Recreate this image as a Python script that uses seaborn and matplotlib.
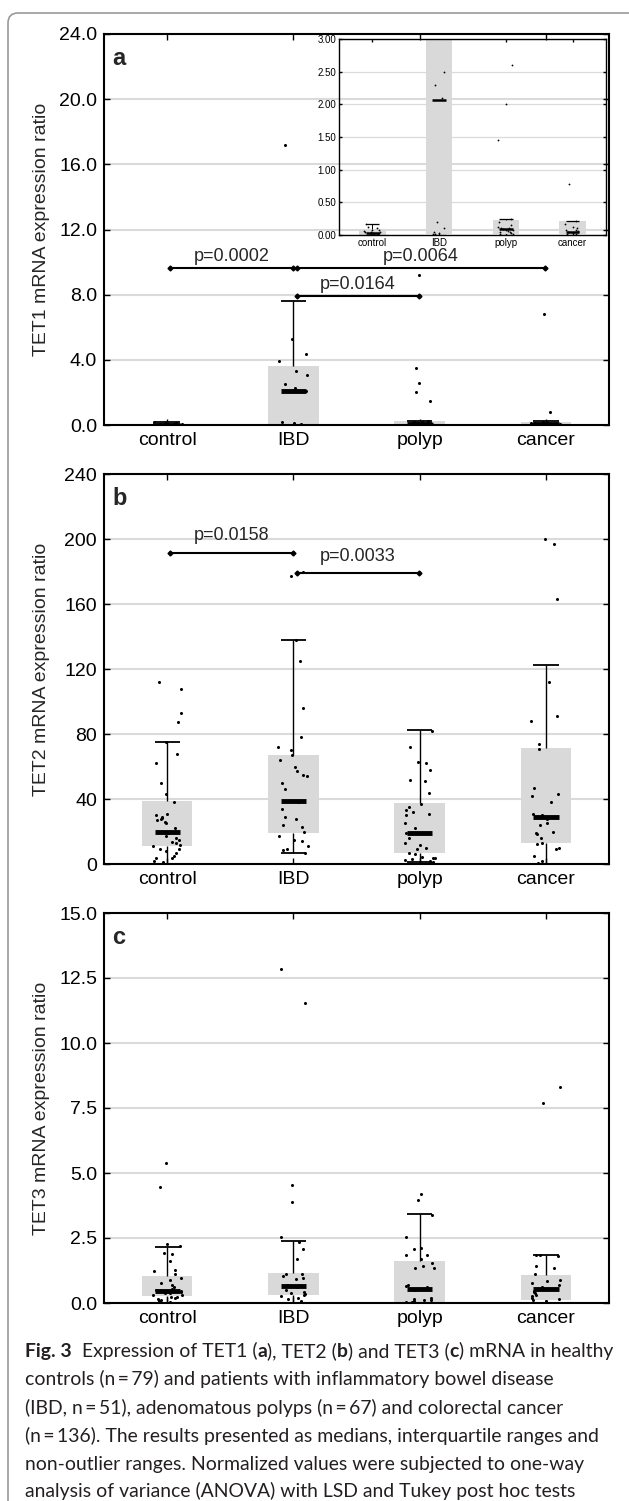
"""TET1/TET2/TET3 expression panels with caption"""

import numpy as np
import pandas as pd
import matplotlib
matplotlib.use("Agg")
import matplotlib.pyplot as plt
import seaborn as sns
from matplotlib.patches import FancyBboxPatch
from matplotlib.transforms import IdentityTransform

W, H = 629, 1501

groups = ["control", "IBD", "polyp", "cancer"]

# TET1 (panel a) - dots
tet1_control = [0.17, 0.12, 0.1, 0.08, 0.07, 0.06, 0.05, 0.04, 0.04, 0.03, 0.03, 0.02, 0.02, 0.01, 0.01, 0.0]
tet1_ibd = [17.2, 5.3, 4.35, 3.9, 3.3, 3.05, 2.5, 2.3, 2.1, 0.2, 0.1, 0.05, 0.03, 0.02, 0.01]
tet1_polyp = [9.2, 3.5, 2.6, 2.0, 1.45, 0.24, 0.2, 0.16, 0.13, 0.11, 0.1, 0.09, 0.08, 0.07, 0.06, 0.05,
              0.04, 0.03, 0.02, 0.01]
tet1_cancer = [6.8, 0.78, 0.21, 0.17, 0.13, 0.1, 0.08, 0.07, 0.06, 0.05, 0.04, 0.03, 0.02, 0.01]
tet1_q1 = [0.0, 0.01, 0.01, 0.01]
tet1_median = [0.03, 2.07, 0.09, 0.05]
tet1_q3 = [0.09, 3.6, 0.23, 0.21]
tet1_low = [0.0, 0.0, 0.0, 0.0]
tet1_high = [0.17, 7.6, 0.25, 0.22]
tet1_pairs = [(0, 1), (1, 3), (1, 2)]
tet1_bar_y = [9.63, 9.63, 7.93]
tet1_p = ["p=0.0002", "p=0.0064", "p=0.0164"]
tet1_ticks = [0, 4, 8, 12, 16, 20, 24]
inset_ticks = [0.0, 0.5, 1.0, 1.5, 2.0, 2.5, 3.0]

# TET2 (panel b)
tet2_control = [112, 108, 93, 87.5, 75, 68, 62, 50, 43, 38, 31, 30, 29, 28.5, 28, 27, 26, 25, 22, 20, 19,
                17, 16, 15, 13.5, 13, 12, 11, 9.5, 9, 8, 6.5, 5, 4, 4, 2, 1]
tet2_ibd = [180, 177, 138, 125, 96, 78, 72, 70, 67, 64, 60, 57, 55, 54, 50, 46, 38, 34, 29, 28, 24, 23,
            20, 17, 15, 14, 11, 9.5, 8.5, 7]
tet2_polyp = [82, 72, 63, 62, 58, 52, 51, 44, 37, 35, 33, 32, 31, 30, 25, 22, 19, 16, 13, 12, 10, 9, 7, 6,
              4.5, 4, 3.5, 3, 2.5, 2, 1.5]
tet2_cancer = [200, 197, 163, 112, 91, 88, 74, 71, 47, 43, 42, 38, 31, 30, 29.5, 29, 28, 25, 24, 20, 19,
               18.5, 16, 13, 12.5, 10, 9.5, 5, 2, 0.5]
tet2_q1 = [11.3, 18.9, 6.5, 13.0]
tet2_median = [19.5, 39.0, 19.3, 29.0]
tet2_q3 = [38.7, 67.0, 37.3, 71.2]
tet2_low = [0.0, 7.0, 1.5, 0.0]
tet2_high = [75.0, 138.0, 82.5, 122.5]
tet2_pairs = [(0, 1), (1, 2)]
tet2_bar_y = [191.6, 178.9]
tet2_p = ["p=0.0158", "p=0.0033"]
tet2_ticks = [0, 40, 80, 120, 160, 200, 240]

# TET3 (panel c)
tet3_control = [5.4, 4.45, 2.28, 2.2, 1.93, 1.89, 1.6, 1.26, 1.22, 1.1, 0.97, 0.9, 0.77, 0.71, 0.6, 0.55,
                0.5, 0.45, 0.42, 0.4, 0.38, 0.32, 0.3, 0.25, 0.22, 0.18, 0.15, 0.12, 0.08, 0.05]
tet3_ibd = [12.85, 11.55, 4.55, 3.9, 2.55, 2.35, 2.06, 1.69, 1.12, 1.1, 1.03, 0.97, 0.93, 0.7, 0.64, 0.6,
            0.49, 0.41, 0.39, 0.35, 0.3, 0.26, 0.19, 0.15, 0.06]
tet3_polyp = [4.2, 3.96, 3.4, 2.55, 2.13, 2.09, 1.86, 1.83, 1.71, 1.55, 1.42, 1.35, 1.34, 0.71, 0.67, 0.62,
              0.55, 0.5, 0.19, 0.15, 0.12, 0.1, 0.06, 0.03, 0.02]
tet3_cancer = [8.3, 7.7, 1.86, 1.83, 1.8, 1.44, 1.33, 1.1, 0.88, 0.84, 0.77, 0.71, 0.61, 0.55, 0.52, 0.45,
               0.42, 0.39, 0.32, 0.26, 0.21, 0.15, 0.1, 0.06]
tet3_q1 = [0.26, 0.31, 0.02, 0.12]
tet3_median = [0.45, 0.65, 0.55, 0.52]
tet3_q3 = [1.03, 1.14, 1.62, 1.08]
tet3_low = [0.0, 0.0, 0.0, 0.0]
tet3_high = [2.16, 2.37, 3.42, 1.86]
tet3_ticks = [0.0, 2.5, 5.0, 7.5, 10.0, 12.5, 15.0]

caption_lines = [
    [("Fig. 3", True), ("  Expression of TET1 (", False), ("a", True), ("), TET2 (", False), ("b", True),
     (") and TET3 (", False), ("c", True), (") mRNA in healthy", False)],
    [("controls (n\u2009=\u200979) and patients with inflammatory bowel disease", False)],
    [("(IBD, n\u2009=\u200951), adenomatous polyps (n\u2009=\u200967) and colorectal cancer", False)],
    [("(n\u2009=\u2009136). The results presented as medians, interquartile ranges and", False)],
    [("non-outlier ranges. Normalized values were subjected to one-way", False)],
    [("analysis of variance (ANOVA) with LSD and Tukey post hoc tests", False)],
]

BOX = "#d9d9d9"
GRID = "#dadada"
CAP_FONT = ["Lato", "DejaVu Sans"]

sns.set_theme(style="white")
plt.rcParams["font.family"] = ["Liberation Sans", "DejaVu Sans"]
np.random.seed(7)


def px_rect(left, top, right, bottom):
    """axes rect from pixel edges (top-left origin)"""
    return [left / W, 1 - bottom / H, (right - left) / W, (bottom - top) / H]


def points_frame(values_by_group):
    rows = []
    for g, vals in zip(groups, values_by_group):
        rows += [(g, v) for v in vals]
    return pd.DataFrame(rows, columns=["group", "value"])


def draw_boxes(ax, df, q1, med, q3, low, high, med_lw=3.5, dot=2.2, lw=1.0):
    x = np.arange(len(groups))
    ax.bar(x, np.subtract(q3, q1), bottom=q1, width=0.4, color=BOX, linewidth=0, zorder=1)
    ax.vlines(x, q3, high, color="black", lw=lw, zorder=2)
    ax.vlines(x, low, q1, color="black", lw=lw, zorder=2)
    ax.hlines(high, x - 0.1, x + 0.1, color="black", lw=lw * 1.3, zorder=2)
    ax.hlines(low, x - 0.1, x + 0.1, color="black", lw=lw * 1.3, zorder=2)
    ax.hlines(med, x - 0.1, x + 0.1, color="black", lw=med_lw, zorder=3)
    sns.stripplot(data=df, x="group", y="value", order=groups, jitter=0.12, size=dot,
                  color="black", linewidth=0, ax=ax, zorder=4)


def style_axes(ax, ticks, fmt, size=14, grid_lw=1.5, spine_lw=1.5, tick_len=4, pad=5):
    ax.set_xlim(-0.5, 3.5)
    ax.set_ylim(ticks[0], ticks[-1])
    ax.set_yticks(ticks)
    ax.set_yticklabels([fmt.format(t) for t in ticks])
    ax.set_xticks(range(len(groups)))
    ax.set_xticklabels(groups)
    ax.set_xlabel("")
    ax.set_ylabel("")
    ax.grid(axis="y", color=GRID, lw=grid_lw)
    ax.grid(axis="x", visible=False)
    ax.set_axisbelow(True)
    ax.tick_params(direction="in", length=tick_len, width=1, top=True, right=True, bottom=True, left=True,
                   labelsize=size, pad=pad, colors="black")
    for s in ax.spines.values():
        s.set_visible(True)
        s.set_color("black")
        s.set_linewidth(spine_lw)


def draw_pvals(ax, pairs, ys, labels, text_off):
    for (a, b), y, lab in zip(pairs, ys, labels):
        x0, x1 = a + 0.025, b - 0.005
        ax.plot([x0, x1], [y, y], color="black", lw=1.5, marker="D", markersize=2.5, zorder=5)
        ax.annotate(lab, xy=((x0 + x1) / 2, y), xytext=(0, text_off), textcoords="offset points",
                    ha="center", va="center", fontsize=13, zorder=5)


def panel(fig, rect, df, stats, ticks, fmt, ylabel, letter):
    ax = fig.add_axes(rect)
    draw_boxes(ax, df, *stats)
    style_axes(ax, ticks, fmt)
    ax.text(0.016, 0.921, letter, transform=ax.transAxes, fontsize=17, fontweight="bold",
            va="baseline", ha="left")
    # y label centred on the panel
    x0, y0, w, h = rect
    fig.text(42 / W, y0 + h / 2, ylabel, rotation=90, ha="center", va="center", fontsize=14)
    return ax


def text_width(fig, renderer, s, **kw):
    # pad with x so leading/trailing spaces are measured too
    t1 = fig.text(0, 0, "x" + s + "x", **kw)
    t2 = fig.text(0, 0, "xx", **kw)
    w = t1.get_window_extent(renderer).width - t2.get_window_extent(renderer).width
    t1.remove()
    t2.remove()
    return w


fig = plt.figure(figsize=(W / 100, H / 100), dpi=100)

# rounded frame around the whole figure
frame = FancyBboxPatch((8, -30), 700, H - 13 + 30, boxstyle="round,pad=0,rounding_size=10",
                       transform=IdentityTransform(), facecolor="none", edgecolor="#9a9a9a", lw=1.2)
fig.add_artist(frame)

df1 = points_frame([tet1_control, tet1_ibd, tet1_polyp, tet1_cancer])
df2 = points_frame([tet2_control, tet2_ibd, tet2_polyp, tet2_cancer])
df3 = points_frame([tet3_control, tet3_ibd, tet3_polyp, tet3_cancer])

ax1 = panel(fig, px_rect(104, 34, 609, 425), df1,
            (tet1_q1, tet1_median, tet1_q3, tet1_low, tet1_high),
            tet1_ticks, "{:.1f}", "TET1 mRNA expression ratio", "a")
draw_pvals(ax1, tet1_pairs, tet1_bar_y, tet1_p, 8.5)

ax2 = panel(fig, px_rect(104, 474, 609, 864), df2,
            (tet2_q1, tet2_median, tet2_q3, tet2_low, tet2_high),
            tet2_ticks, "{:.0f}", "TET2 mRNA expression ratio", "b")
draw_pvals(ax2, tet2_pairs, tet2_bar_y, tet2_p, 12.0)

ax3 = panel(fig, px_rect(104, 913, 609, 1303), df3,
            (tet3_q1, tet3_median, tet3_q3, tet3_low, tet3_high),
            tet3_ticks, "{:.1f}", "TET3 mRNA expression ratio", "c")

# zoomed inset for TET1, transparent so the main grid shows through
ins = fig.add_axes(px_rect(339, 39, 606, 235))
draw_boxes(ins, df1, tet1_q1, tet1_median, tet1_q3, tet1_low, tet1_high, med_lw=1.8, dot=1.3, lw=0.7)
style_axes(ins, inset_ticks, "{:.2f}", size=7, grid_lw=0.9, spine_lw=1.0, tick_len=2, pad=2)
ins.patch.set_alpha(0)

# caption, drawn run by run so the bold letters sit inline
renderer = fig.canvas.get_renderer()
plain = caption_lines[3][0][0]
cap_size = 14 * 577 / text_width(fig, renderer, plain, fontsize=14, family=CAP_FONT)
baselines = [1357, 1385, 1414, 1442, 1470, 1497]
for runs, yb in zip(caption_lines, baselines):
    x = 25
    for s, bold in runs:
        kw = dict(fontsize=cap_size, family=CAP_FONT, fontweight="bold" if bold else "normal")
        fig.text(x / W, 1 - yb / H, s, ha="left", va="baseline", color="#231f20", **kw)
        x += text_width(fig, renderer, s, **kw)

fig.savefig("out.png", dpi=100)
plt.close()
